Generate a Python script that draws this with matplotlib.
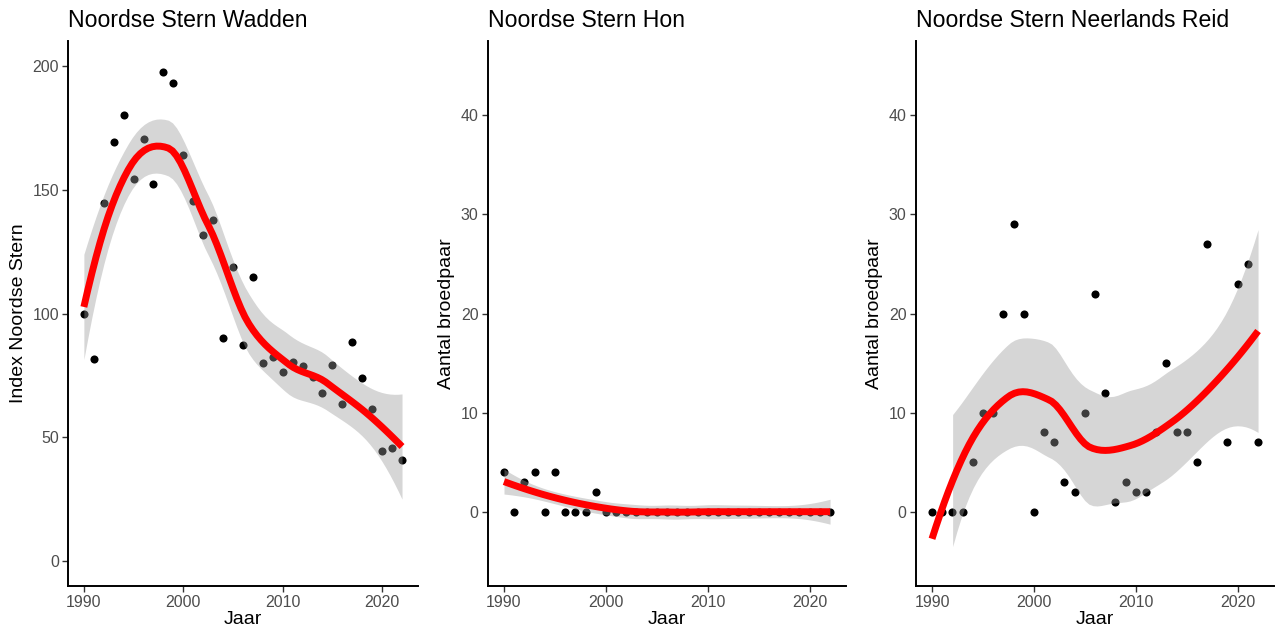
import numpy as np
import matplotlib
matplotlib.use('Agg')
import matplotlib.pyplot as plt

plt.rcParams['font.family'] = ['Liberation Sans', 'DejaVu Sans']

# data
years = list(range(1990, 2023))

wadden = [100, 81.5, 144.7, 169.3, 180, 154.5, 170.4, 152.2, 197.6, 193,
          163.9, 145.5, 131.8, 137.9, 90, 118.9, 87.1, 114.9, 79.9, 82.5,
          76.4, 80.3, 78.7, 74.2, 67.8, 79.1, 63.6, 88.7, 74.1, 61.6,
          44.6, 45.7, 40.7]

hon = [4, 0, 3, 4, 0, 4, 0, 0, 0, 2, 0, 0, 0, 0, 0, 0, 0, 0, 0, 0,
       0, 0, 0, 0, 0, 0, 0, 0, 0, 0, 0, 0, 0]

# 2018 has no value in this colony
reid = [0, 0, 0, 0, 5, 10, 10, 20, 29, 20, 0, 8, 7, 3, 2, 10, 22, 12, 1, 3,
        2, 2, 8, 15, 8, 8, 5, 27, np.nan, 7, 23, 25, 7]

titles = ['Noordse Stern Wadden', 'Noordse Stern Hon',
          'Noordse Stern Neerlands Reid']
ylabels = ['Index Noordse Stern', 'Aantal broedpaar', 'Aantal broedpaar']
ylims = [(0, 200), (-5, 45), (-5, 45)]
yticks = [[0, 50, 100, 150, 200], [0, 10, 20, 30, 40], [0, 10, 20, 30, 40]]


def local_rows(x, v, q):
    # local quadratic fit with tricube weights: rows giving value and slope
    d = np.abs(x - v)
    h = np.sort(d)[q - 1]
    u = np.clip(d / h, 0, 1)
    w = (1 - u ** 3) ** 3
    X = np.column_stack([np.ones(len(x)), x - v, (x - v) ** 2])
    XtW = X.T * w
    A = np.linalg.solve(XtW @ X, XtW)
    return A[0], A[1]


def kd_vertices(x, fc):
    xs = np.sort(x)
    rng = xs[-1] - xs[0]
    verts = [xs[0] - 0.005 * rng, xs[-1] + 0.005 * rng]

    def split(lo, hi):
        if hi - lo + 1 <= fc:
            return
        m = (lo + hi) // 2
        verts.append((xs[m] + xs[m + 1]) / 2)
        split(lo, m)
        split(m + 1, hi)

    split(0, len(xs) - 1)
    return np.sort(verts)


def loess_matrix(x, x0, span=0.75):
    # loess with kd-tree vertices and cubic hermite interpolation
    n = len(x)
    q = int(np.floor(n * span))
    fc = int(np.floor(n * span * 0.2))
    vx = kd_vertices(x, fc)
    vals, slopes = [], []
    for v in vx:
        a, b = local_rows(x, v, q)
        vals.append(a)
        slopes.append(b)
    vals, slopes = np.array(vals), np.array(slopes)
    rows = []
    for p in x0:
        k = min(max(np.searchsorted(vx, p) - 1, 0), len(vx) - 2)
        x1, x2 = vx[k], vx[k + 1]
        hh = x2 - x1
        t = (p - x1) / hh
        h00 = 2 * t ** 3 - 3 * t ** 2 + 1
        h10 = t ** 3 - 2 * t ** 2 + t
        h01 = -2 * t ** 3 + 3 * t ** 2
        h11 = t ** 3 - t ** 2
        rows.append(h00 * vals[k] + h10 * hh * slopes[k]
                    + h01 * vals[k + 1] + h11 * hh * slopes[k + 1])
    return np.array(rows)


def t975(df):
    z = 1.959964
    return (z + (z ** 3 + z) / (4 * df)
            + (5 * z ** 5 + 16 * z ** 3 + 3 * z) / (96 * df ** 2)
            + (3 * z ** 7 + 19 * z ** 5 + 17 * z ** 3 - 15 * z) / (384 * df ** 3))


def smooth(xs, ys):
    xs = np.asarray(xs, dtype=float)
    ys = np.asarray(ys, dtype=float)
    ok = ~np.isnan(ys)
    x, y = xs[ok], ys[ok]
    grid = np.linspace(x.min(), x.max(), 80)
    L = loess_matrix(x, x)
    M = np.eye(len(x)) - L
    MM = M.T @ M
    d1 = np.trace(MM)
    d2 = np.trace(MM @ MM)
    res = y - L @ y
    sigma = np.sqrt(np.sum(res ** 2) / d1)
    G = loess_matrix(x, grid)
    fit = G @ y
    se = sigma * np.sqrt(np.sum(G ** 2, axis=1))
    t = t975(d1 ** 2 / d2)
    return grid, fit, fit - t * se, fit + t * se


fig = plt.figure(figsize=(12.75, 6.33), dpi=100)
boxes = [(0.0533, 0.3278), (0.3825, 0.6638), (0.7182, 0.9995)]
series = [wadden, hon, reid]

for i in range(3):
    l, r = boxes[i]
    ax = fig.add_axes([l, 0.0742, r - l, 0.9352 - 0.0742])
    lo, hi = ylims[i]
    pad = (hi - lo) * 0.05
    ax.set_ylim(lo - pad, hi + pad)
    ax.set_xlim(1988.4, 2023.6)

    ax.scatter(years, series[i], s=34, color='black', lw=0, zorder=2)

    gx, fit, low, up = smooth(years, series[i])
    inside = (low >= lo) & (up <= hi)
    ax.fill_between(gx, low, up, where=inside, color='#999999', alpha=0.4,
                    lw=0, zorder=3)
    fline = np.where((fit >= lo) & (fit <= hi), fit, np.nan)
    ax.plot(gx, fline, color='red', lw=5, solid_capstyle='butt', zorder=4)

    ax.set_xticks([1990, 2000, 2010, 2020])
    ax.set_yticks(yticks[i])
    for s in ['top', 'right']:
        ax.spines[s].set_visible(False)
    for s in ['left', 'bottom']:
        ax.spines[s].set_linewidth(1.4)
    ax.tick_params(length=4, width=1, color='#333333', labelcolor='#4D4D4D',
                   labelsize=11.5, pad=2.5)
    ax.set_xlabel('Jaar', fontsize=14, labelpad=1)
    ax.set_ylabel(ylabels[i], fontsize=14, labelpad=4)
    ax.set_title(titles[i], loc='left', fontsize=16.6, pad=10)

plt.savefig('out.png', dpi=100)
